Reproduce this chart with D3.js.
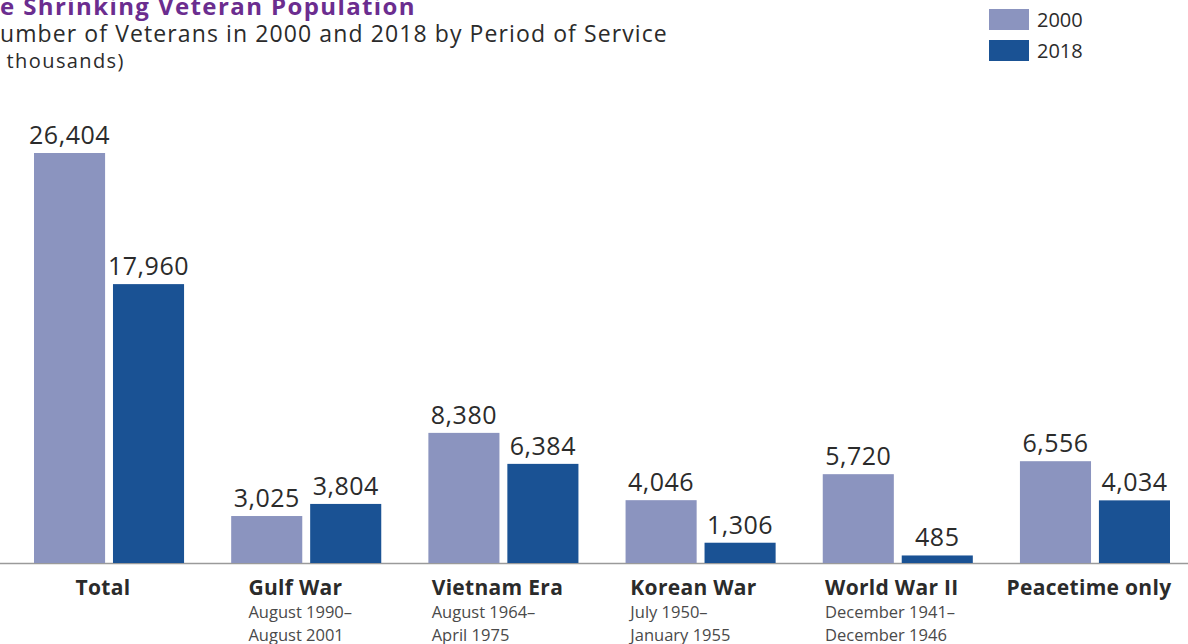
<!DOCTYPE html>
<html>
<head>
<meta charset="utf-8">
<script src="https://cdn.jsdelivr.net/npm/d3@7"></script>
<style>
  html, body { margin: 0; padding: 0; background: #fff; overflow: hidden; }
  svg { display: block; font-family: "Open Sans", "Noto Sans", sans-serif; }
</style>
</head>
<body>
<div id="chart"></div>
<script>
const w = 1188;
const h = 644;
const baseline = 563;

const categories = ["Total", "Gulf War", "Vietnam Era", "Korean War", "World War II", "Peacetime only"];
const periods = [[], ["August 1990–", "August 2001"], ["August 1964–", "April 1975"], ["July 1950–", "January 1955"], ["December 1941–", "December 1946"], []];
const years = ["2000", "2018"];
const values2000 = [26404, 3025, 8380, 4046, 5720, 6556];
const values2018 = [17960, 3804, 6384, 1306, 485, 4034];
const color = { "2000": "#8b94bf", "2018": "#1a5294" };

const rows = categories.map((c, i) => ({ cat: c, period: periods[i], vals: [
  { year: "2000", v: values2000[i] },
  { year: "2018", v: values2018[i] },
] }));

const svg = d3.select("#chart").append("svg").attr("width", w).attr("height", h);

const x0 = d3.scaleBand().domain(categories).range([34, 1170]).paddingInner(0.239).paddingOuter(0);
const x1 = d3.scaleBand().domain(years).range([0, x0.bandwidth()]).paddingInner(0.1);
const y = d3.scaleLinear().domain([0, d3.max(values2000)]).range([baseline, 153]);

// titles, the left edge is cropped in the original
const titles = [
  { text: "The Shrinking Veteran Population", cut: "Th", y: 15, size: 24, weight: 700, fill: "#6b2d8f", ls: 1.4 },
  { text: "Number of Veterans in 2000 and 2018 by Period of Service", cut: "N", y: 42, size: 23, weight: 400, fill: "#2b2b2b", ls: 1.1 },
  { text: "(in thousands)", cut: "(in", y: 68, size: 20, weight: 400, fill: "#2b2b2b", ls: 1.4 },
];
titles.forEach((t) => {
  const el = svg.append("text")
    .attr("y", t.y)
    .attr("font-size", t.size)
    .attr("font-weight", t.weight)
    .attr("letter-spacing", t.ls)
    .attr("fill", t.fill)
    .text(t.text);
  const cutW = el.node().getSubStringLength(0, t.cut.length);
  el.attr("x", -cutW);
});

// legend
const legend = svg.append("g").attr("transform", "translate(989, 9)");
years.forEach((yr, i) => {
  legend.append("rect").attr("x", 0).attr("y", i * 31).attr("width", 40).attr("height", 21).attr("fill", color[yr]);
  legend.append("text").attr("x", 48).attr("y", i * 31 + 18).attr("font-size", 20).attr("fill", "#2b2b2b").text(yr);
});

// axis line
svg.append("line")
  .attr("x1", 0).attr("x2", w)
  .attr("y1", baseline + 0.5).attr("y2", baseline + 0.5)
  .attr("stroke", "#9a9a9a").attr("stroke-width", 1.5);

const groups = svg.selectAll("g.group")
  .data(rows)
  .enter()
  .append("g")
  .attr("class", "group")
  .attr("transform", (d) => `translate(${x0(d.cat)}, 0)`);

groups.selectAll("rect")
  .data((d) => d.vals)
  .enter()
  .append("rect")
  .attr("x", (d) => x1(d.year))
  .attr("y", (d) => y(d.v))
  .attr("width", x1.bandwidth())
  .attr("height", (d) => baseline - y(d.v))
  .attr("fill", (d) => color[d.year]);

groups.selectAll("text.val")
  .data((d) => d.vals)
  .enter()
  .append("text")
  .attr("class", "val")
  .attr("x", (d) => x1(d.year) + x1.bandwidth() / 2)
  .attr("y", (d) => y(d.v) - 9)
  .attr("text-anchor", "middle")
  .attr("font-size", 25)
  .attr("letter-spacing", 0.5)
  .attr("fill", "#2b2b2b")
  .text((d) => d3.format(",")(d.v));

// category labels: block roughly centred under the group, lines left-aligned
groups.each(function (d) {
  const g = d3.select(this);
  const block = g.append("g");
  block.append("text")
    .attr("y", 595)
    .attr("font-size", 21)
    .attr("font-weight", 700)
    .attr("letter-spacing", 0.3)
    .attr("fill", "#2b2b2b")
    .text(d.cat);
  d.period.forEach((p, i) => {
    block.append("text")
      .attr("y", 618 + i * 22.5)
      .attr("font-size", 16.5)
      .attr("fill", "#4a4a4a")
      .text(p);
  });
  const bw = block.node().getBBox().width;
  block.attr("transform", `translate(${x0.bandwidth() / 2 - bw / 2 - 6}, 0)`);
});
</script>
</body>
</html>
